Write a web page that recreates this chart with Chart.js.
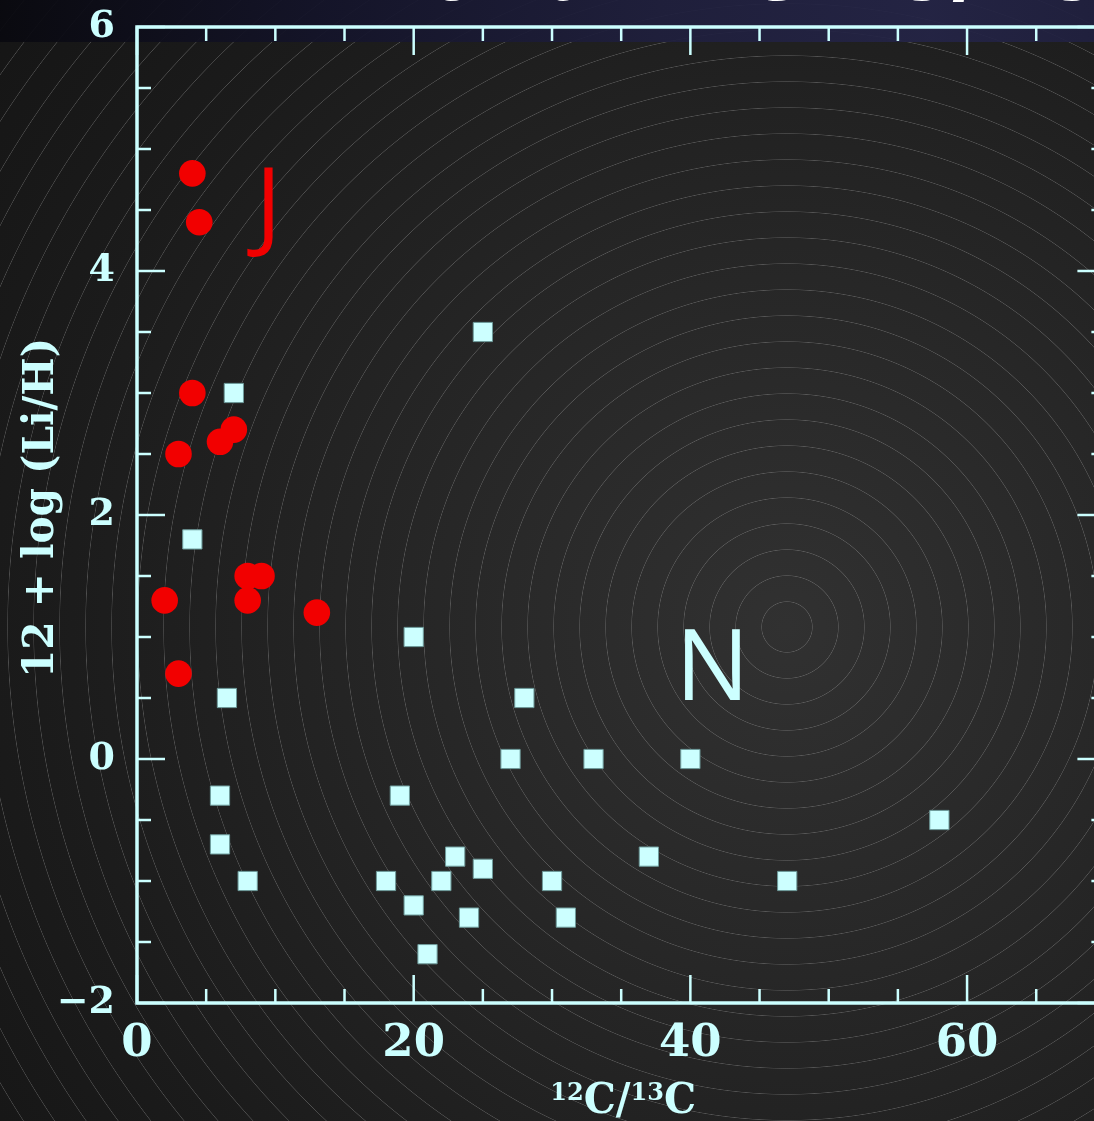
<!DOCTYPE html>
<html>
<head>
<meta charset="utf-8">
<script src="https://cdn.jsdelivr.net/npm/chart.js@4.4.1/dist/chart.umd.min.js"></script>
<style>
  html, body { margin: 0; padding: 0; }
  body {
    width: 1094px; height: 1121px; overflow: hidden; position: relative;
    background:
      repeating-radial-gradient(circle at 787px 627px, rgba(0,0,0,0) 0px, rgba(0,0,0,0) 24.7px, rgba(175,175,175,0.34) 25.3px, rgba(0,0,0,0) 26px),
      radial-gradient(circle at 787px 627px, #313131 0px, #272727 350px, #1b1b1b 750px, #121212 1150px);
  }
  #band {
    position: absolute; left: 0; top: 0; width: 1094px; height: 42px; opacity: 0.93;
    background: linear-gradient(90deg, #09090f 0%, #14142a 30%, #1f1f3d 60%, #242446 85%, #20203f 100%);
  }
  #title {
    position: absolute; left: 352px; top: -76px; margin: 0;
    font: bold 90px "Liberation Sans", sans-serif; line-height: 90px;
    color: #fff; white-space: nowrap;
  }
  #c { position: absolute; left: 0; top: 0; width: 1120px; height: 1121px; }
</style>
</head>
<body>
<div id="band"></div>
<div id="title">Lithium vs ¹²C/¹³C</div>
<canvas id="c" width="1120" height="1121"></canvas>
<script>
// J-type stars (red circles)
const ratioJ = [4, 4.5, 4, 3, 6, 7, 2, 8, 9, 8, 13, 3];
const liJ    = [4.8, 4.4, 3.0, 2.5, 2.6, 2.7, 1.3, 1.5, 1.5, 1.3, 1.2, 0.7];

// N-type stars (cyan squares)
const ratioN = [25, 7, 4, 20, 6.5, 28, 27, 33, 40, 6, 19, 58, 6, 23, 25, 37, 8, 18, 22, 30, 47, 20, 24, 31, 21];
const liN    = [3.5, 3.0, 1.8, 1.0, 0.5, 0.5, 0, 0, 0, -0.3, -0.3, -0.5, -0.7, -0.8, -0.9, -0.8, -1.0, -1.0, -1.0, -1.0, -1.0, -1.2, -1.3, -1.3, -1.6];

const xLabels = [0, 20, 40, 60];
const yLabels = [-2, 0, 2, 4, 6];
const groupNotes = [
  { text: 'J', x: 9.5, y: 4.27 },
  { text: 'N', x: 41.6, y: 0.48 }
];

const AXIS = '#ccffff';
const RED = '#f20000';
const SERIF = '"DejaVu Serif"';

const toPts = (xs, ys) => xs.map((v, i) => ({ x: v, y: ys[i] }));

// keep tick labels from pushing the plot frame around
const noOverhang = s => { s.paddingTop = 0; s.paddingBottom = 0; s.paddingLeft = 0; s.paddingRight = 0; };

const framePlugin = {
  id: 'frame',
  beforeDatasetsDraw(chart) {
    const { ctx, chartArea: a, scales: { x, y } } = chart;
    ctx.save();
    ctx.strokeStyle = AXIS;
    ctx.lineWidth = 2.5;
    ctx.beginPath();
    x.ticks.forEach(t => {
      const px = x.getPixelForValue(t.value);
      const len = xLabels.includes(t.value) ? 28 : 14;
      ctx.moveTo(px, a.bottom); ctx.lineTo(px, a.bottom - len);
      ctx.moveTo(px, a.top); ctx.lineTo(px, a.top + len);
    });
    y.ticks.forEach(t => {
      const py = y.getPixelForValue(t.value);
      const len = yLabels.includes(t.value) ? 28 : 14;
      ctx.moveTo(a.left, py); ctx.lineTo(a.left + len, py);
      ctx.moveTo(a.right, py); ctx.lineTo(a.right - len, py);
    });
    ctx.stroke();
    ctx.lineWidth = 3.5;
    ctx.strokeRect(a.left, a.top, a.right - a.left, a.bottom - a.top);
    ctx.restore();
  },
  afterDraw(chart) {
    const { ctx, chartArea: a, scales: { x, y } } = chart;
    ctx.save();
    // group letters
    ctx.font = '98px "Open Sans"';
    ctx.textAlign = 'center';
    ctx.textBaseline = 'alphabetic';
    groupNotes.forEach((n, i) => {
      ctx.fillStyle = i === 0 ? RED : AXIS;
      ctx.fillText(n.text, x.getPixelForValue(n.x), y.getPixelForValue(n.y));
    });
    // y title (condensed to the reference length)
    ctx.fillStyle = AXIS;
    ctx.font = 'bold 43px ' + SERIF;
    const yt = '12 + log (Li/H)';
    const sy = 340 / ctx.measureText(yt).width;
    ctx.save();
    ctx.translate(53, 508);
    ctx.rotate(-Math.PI / 2);
    ctx.scale(sy, 1);
    ctx.fillText(yt, 0, 0);
    ctx.restore();
    // x title with superscripts
    const parts = [
      { t: '12', sup: true }, { t: 'C' }, { t: '/' }, { t: '13', sup: true }, { t: 'C' }
    ];
    const big = 'bold 42px ' + SERIF, small = 'bold 25px ' + SERIF;
    let total = 0;
    parts.forEach(p => { ctx.font = p.sup ? small : big; p.w = ctx.measureText(p.t).width; total += p.w; });
    const sx = 146 / total;
    ctx.save();
    ctx.translate((a.left + a.right) / 2 + 2, 0);
    ctx.scale(sx, 1);
    let cx = -total / 2;
    ctx.textAlign = 'left';
    parts.forEach(p => {
      ctx.font = p.sup ? small : big;
      ctx.fillText(p.t, cx, p.sup ? 1100 : 1113);
      cx += p.w;
    });
    ctx.restore();
    ctx.restore();
  }
};

new Chart(document.getElementById('c'), {
  type: 'scatter',
  data: {
    datasets: [
      {
        label: 'J', data: toPts(ratioJ, liJ),
        pointStyle: 'circle', pointRadius: 13.3,
        backgroundColor: RED, borderWidth: 0
      },
      {
        label: 'N', data: toPts(ratioN, liN),
        pointStyle: 'rect', pointRadius: 13.6,
        backgroundColor: AXIS, borderColor: '#6f9c9c', borderWidth: 1
      }
    ]
  },
  options: {
    responsive: false, animation: false,
    layout: { padding: { top: 27, right: 5, left: 0, bottom: 0 } },
    plugins: { legend: { display: false }, tooltip: { enabled: false } },
    elements: { point: { hoverRadius: 13 } },
    scales: {
      x: {
        type: 'linear', min: 0, max: 70,
        grid: { display: false, drawTicks: false }, border: { display: false },
        afterFit: s => { s.height = 118; noOverhang(s); },
        ticks: {
          stepSize: 5, autoSkip: false, maxRotation: 0, padding: 14, color: AXIS,
          font: { family: 'DejaVu Serif', weight: 'bold', size: 45 },
          callback: v => xLabels.includes(v) ? String(v) : ''
        }
      },
      y: {
        type: 'linear', min: -2, max: 6,
        grid: { display: false, drawTicks: false }, border: { display: false },
        afterFit: s => { s.width = 137; noOverhang(s); },
        ticks: {
          stepSize: 0.5, autoSkip: false, padding: 22, color: AXIS,
          font: { family: 'DejaVu Serif', weight: 'bold', size: 38 },
          callback: v => yLabels.includes(v) ? (v < 0 ? '\u2212' + Math.abs(v) : String(v)) : ''
        }
      }
    }
  },
  plugins: [framePlugin]
});
</script>
</body>
</html>
